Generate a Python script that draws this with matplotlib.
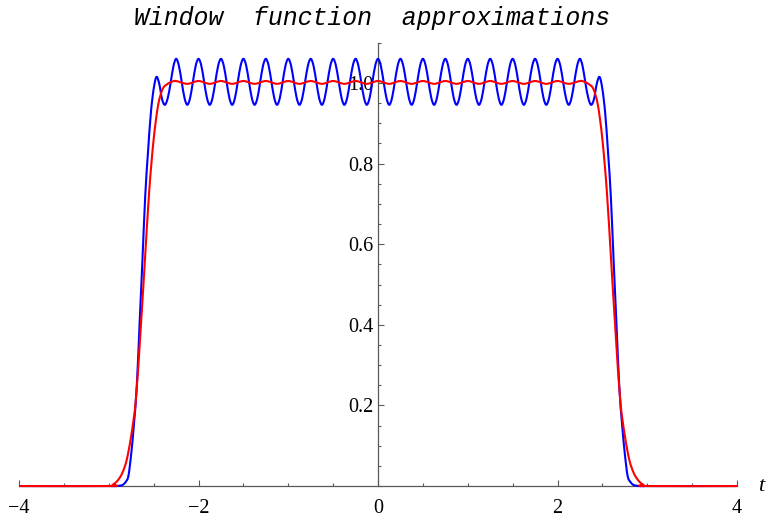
import numpy as np
import matplotlib
matplotlib.use('Agg')
from matplotlib import pyplot as plt
from matplotlib.path import Path
from matplotlib.patches import PathPatch
from matplotlib.ticker import MultipleLocator, FixedLocator

# blue curve, sampled every 1/32 from t=-3 to t=3 (one row = one ripple period)
blue_t = np.linspace(-3, 3, 193)
blue_y = [
    0.000, 0.000, 0.000, 0.000, 0.001, 0.003, 0.010, 0.025,
    0.080, 0.155, 0.250, 0.405, 0.560, 0.720, 0.830, 0.925,
    0.985, 1.015, 0.998, 0.960, 0.946, 0.962, 0.998, 1.040,
    1.060, 1.043, 1.003, 0.963, 0.946, 0.963, 1.003, 1.043,
    1.060, 1.043, 1.003, 0.963, 0.946, 0.963, 1.003, 1.043,
    1.060, 1.043, 1.003, 0.963, 0.946, 0.963, 1.003, 1.043,
    1.060, 1.043, 1.003, 0.963, 0.946, 0.963, 1.003, 1.043,
    1.060, 1.043, 1.003, 0.963, 0.946, 0.963, 1.003, 1.043,
    1.060, 1.043, 1.003, 0.963, 0.946, 0.963, 1.003, 1.043,
    1.060, 1.043, 1.003, 0.963, 0.946, 0.963, 1.003, 1.043,
    1.060, 1.043, 1.003, 0.963, 0.946, 0.963, 1.003, 1.043,
    1.060, 1.043, 1.003, 0.963, 0.946, 0.963, 1.003, 1.043,
    1.060, 1.043, 1.003, 0.963, 0.946, 0.963, 1.003, 1.043,
    1.060, 1.043, 1.003, 0.963, 0.946, 0.963, 1.003, 1.043,
    1.060, 1.043, 1.003, 0.963, 0.946, 0.963, 1.003, 1.043,
    1.060, 1.043, 1.003, 0.963, 0.946, 0.963, 1.003, 1.043,
    1.060, 1.043, 1.003, 0.963, 0.946, 0.963, 1.003, 1.043,
    1.060, 1.043, 1.003, 0.963, 0.946, 0.963, 1.003, 1.043,
    1.060, 1.043, 1.003, 0.963, 0.946, 0.963, 1.003, 1.043,
    1.060, 1.043, 1.003, 0.963, 0.946, 0.963, 1.003, 1.043,
    1.060, 1.043, 1.003, 0.963, 0.946, 0.963, 1.003, 1.043,
    1.060, 1.040, 0.998, 0.962, 0.946, 0.960, 0.998, 1.015,
    0.985, 0.925, 0.830, 0.720, 0.560, 0.405, 0.250, 0.155,
    0.080, 0.025, 0.010, 0.003, 0.001, 0.000, 0.000, 0.000,
    0.000,
]

# red curve
red_t = [-3.0, -2.95, -2.9, -2.85, -2.8, -2.75, -2.7, -2.65, -2.6, -2.55,
         -2.5, -2.45, -2.4, -2.35, -2.3,
         -2.25, -2.125, -2.0, -1.875, -1.75, -1.625, -1.5, -1.375, -1.25,
         -1.125, -1.0, -0.875, -0.75, -0.625, -0.5, -0.375, -0.25, -0.125,
         0.0, 0.125, 0.25, 0.375, 0.5, 0.625, 0.75, 0.875, 1.0, 1.125,
         1.25, 1.375, 1.5, 1.625, 1.75, 1.875, 2.0, 2.125, 2.25,
         2.3, 2.35, 2.4, 2.45, 2.5, 2.55, 2.6, 2.65, 2.7, 2.75, 2.8,
         2.85, 2.9, 2.95, 3.0]
red_y = [0.0, 0.004, 0.014, 0.032, 0.065, 0.125, 0.21, 0.37, 0.55, 0.73,
         0.86, 0.945, 0.985, 0.997, 1.003,
         1.005, 0.998, 1.005, 0.998, 1.005, 0.998, 1.005, 0.998, 1.005,
         0.998, 1.005, 0.998, 1.005, 0.998, 1.005, 0.998, 1.005, 0.998,
         1.005, 0.998, 1.005, 0.998, 1.005, 0.998, 1.005, 0.998, 1.005, 0.998,
         1.005, 0.998, 1.005, 0.998, 1.005, 0.998, 1.005, 0.998, 1.005,
         1.003, 0.997, 0.985, 0.945, 0.86, 0.73, 0.55, 0.37, 0.21, 0.125, 0.065,
         0.032, 0.014, 0.004, 0.0]

x_ticks = [-4, -2, 0, 2, 4]
y_ticks = [0.2, 0.4, 0.6, 0.8, 1.0]


def smooth_path(xs, ys):
    # smooth line through the points (Catmull-Rom drawn as cubic Beziers)
    p = np.column_stack([xs, ys])
    ext = np.vstack([p[0], p, p[-1]])
    verts = [p[0]]
    codes = [Path.MOVETO]
    for i in range(len(p) - 1):
        a, b, c, d = ext[i], ext[i + 1], ext[i + 2], ext[i + 3]
        verts += [b + (c - a) / 6, c - (d - b) / 6, c]
        codes += [Path.CURVE4] * 3
    return Path(verts, codes)


fig = plt.figure(figsize=(7.67, 5.16), dpi=100)
ax = fig.add_axes([0.0248, 0.0581, 0.9361, 0.8591])

bt = np.concatenate([[-4], blue_t, [4]])
by = np.concatenate([[0], blue_y, [0]])
rt = np.concatenate([[-4], red_t, [4]])
ry = np.concatenate([[0], red_y, [0]])
ax.add_patch(PathPatch(smooth_path(bt, by), fill=False, edgecolor='#0000ff',
                       lw=1.5, zorder=3, clip_on=False))
ax.add_patch(PathPatch(smooth_path(rt, ry), fill=False, edgecolor='#ff0000',
                       lw=1.5, zorder=4, clip_on=False))

ax.set_xlim(-4, 4)
ax.set_ylim(0, 1.1)
ax.spines['left'].set_position(('data', 0))
ax.spines['bottom'].set_position(('data', 0))
ax.spines['top'].set_visible(False)
ax.spines['right'].set_visible(False)
for s in ['left', 'bottom']:
    ax.spines[s].set_color('0.35')
    ax.spines[s].set_linewidth(0.9)

ax.xaxis.set_major_locator(FixedLocator(x_ticks))
ax.xaxis.set_minor_locator(MultipleLocator(0.5))
ax.yaxis.set_major_locator(FixedLocator(y_ticks))
ax.yaxis.set_minor_locator(MultipleLocator(0.05))
ax.set_xticklabels(['\u22124', '\u22122', '0', '2', '4'])
ax.set_yticklabels(['0.2', '0.4', '0.6', '0.8', '1.0'])
ax.tick_params(which='both', direction='in', color='0.35', width=0.8)
ax.tick_params(which='major', length=4.5, labelsize=14.5)
ax.tick_params(which='minor', length=2.5)
ax.tick_params(axis='x', pad=9)
ax.tick_params(axis='y', pad=3.5)
for lab in ax.get_xticklabels() + ax.get_yticklabels():
    lab.set_fontfamily('Liberation Serif')

ax.text(1.033, 0.0, 't', transform=ax.transAxes, fontsize=16,
        family='Liberation Serif', style='italic', ha='center', va='center')

fig.text(372 / 767, 1 - 18 / 516, 'Window  function  approximations',
         family='Liberation Mono', style='italic', fontsize=17.9,
         ha='center', va='center')

fig.savefig('out.png', dpi=100)
